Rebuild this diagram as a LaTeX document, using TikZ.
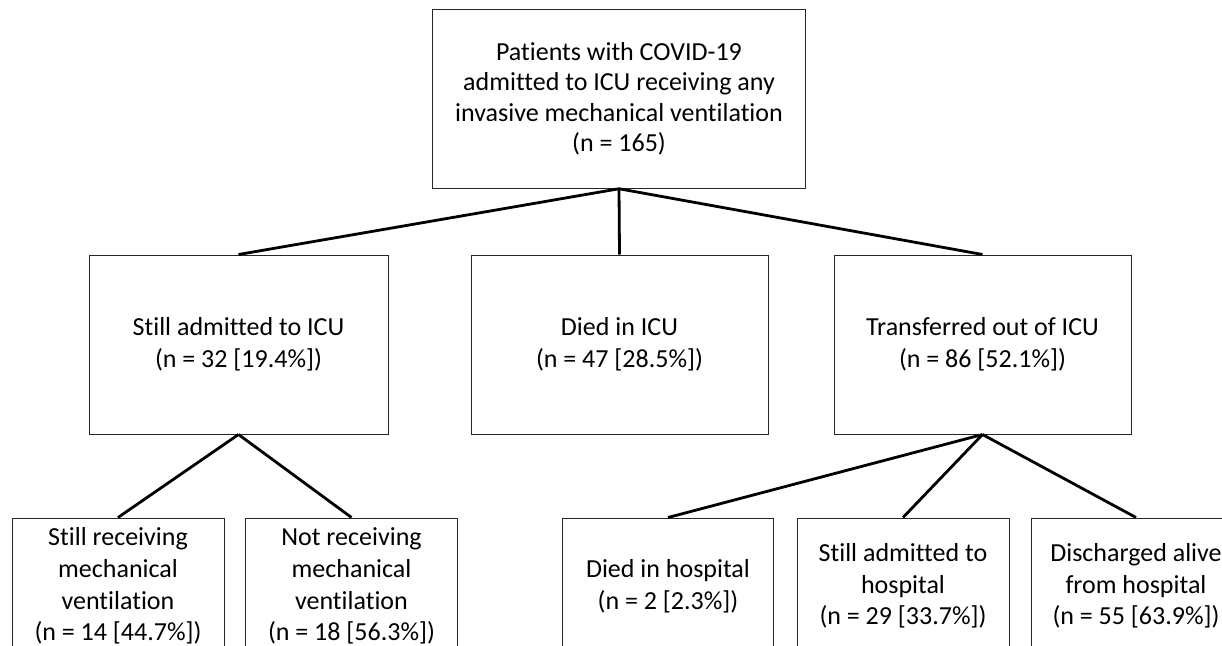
\documentclass[tikz,border=0pt]{standalone}
\usepackage{fontspec}
\setmainfont{Carlito}[Ligatures={NoCommon}]
\begin{document}
\begin{tikzpicture}[x=1pt,y=-1pt,
  box/.style={draw=black!85, line width=1pt, rectangle, inner sep=0pt, align=center,
              font=\fontsize{26}{31.7}\selectfont},
  link/.style={line width=2.8pt, black}]
\clip (0,0) rectangle (1222,645);
\fill[white] (0,0) rectangle (1222,645);
% top
\node[box, font=\fontsize{26}{30.5}\selectfont, minimum width=373, minimum height=178.5] (top) at (619,99)
  {Patients with COVID-19\\admitted to ICU receiving any\\invasive mechanical ventilation\\(n = 165)};
% middle row
\node[box, minimum width=299, minimum height=179] (icu) at (238.5,344.5)
  {Still admitted to ICU\\(n = 32 [19.4\%])};
\node[box, minimum width=297, minimum height=179] (died) at (619.5,344.5)
  {Died in ICU\\(n = 47 [28.5\%])};
\node[box, minimum width=297, minimum height=179] (trans) at (982.5,344.5)
  {Transferred out of ICU\\(n = 86 [52.1\%])};
% bottom row
\node[box, minimum width=212, minimum height=136] (still) at (118,586)
  {Still receiving\\mechanical\\ventilation\\(n = 14 [44.7\%])};
\node[box, minimum width=211.5, minimum height=136] (notr) at (351.5,586)
  {Not receiving\\mechanical\\ventilation\\(n = 18 [56.3\%])};
\node[box, minimum width=211, minimum height=136] (dh) at (668,586)
  {Died in hospital\\(n = 2 [2.3\%])};
\node[box, minimum width=212, minimum height=136] (sh) at (903,586)
  {Still admitted to\\hospital\\(n = 29 [33.7\%])};
\node[box, minimum width=210, minimum height=136] (dis) at (1136,586)
  {Discharged alive\\from hospital\\(n = 55 [63.9\%])};
% connectors
\draw[link] (top.south) -- (icu.north);
\draw[link] (top.south) -- (died.north);
\draw[link] (top.south) -- (trans.north);
\draw[link] (icu.south) -- (still.north);
\draw[link] (icu.south) -- (notr.north);
\draw[link] (trans.south) -- (dh.north);
\draw[link] (trans.south) -- (sh.north);
\draw[link] (trans.south) -- (dis.north);
\end{tikzpicture}
\end{document}
